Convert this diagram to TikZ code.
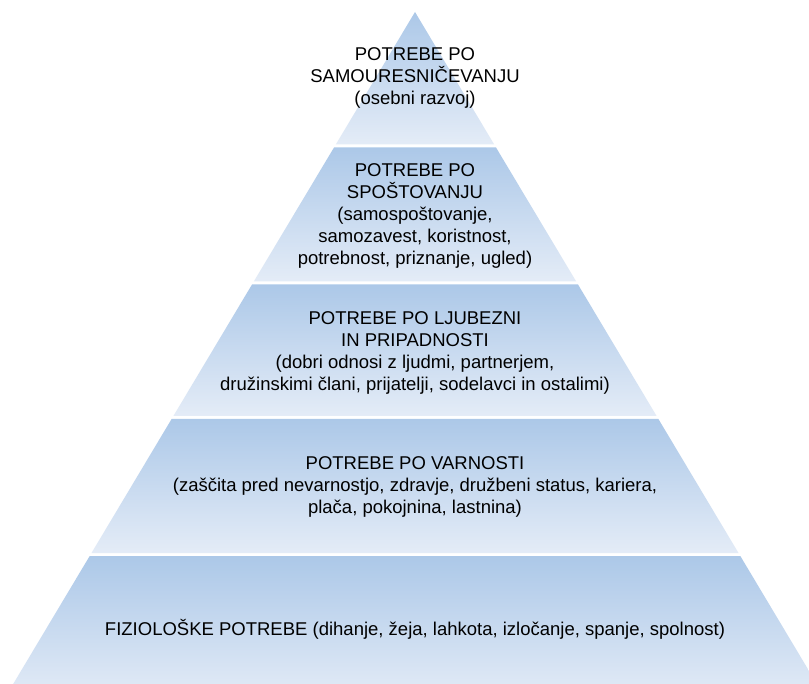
\documentclass[tikz,border=0pt]{standalone}
\usepackage{fontspec}
\setmainfont{Liberation Sans}
\begin{document}
\begin{tikzpicture}[x=1pt,y=-1pt,
  level/.style={top color=layertop,bottom color=layerbottom,draw=none},
  label/.style={align=center,font=\fontsize{18.5}{21.8}\selectfont,text=black,inner sep=0pt}]
\definecolor{layertop}{RGB}{172,200,232}
\definecolor{layerbottom}{RGB}{228,236,247}
\useasboundingbox (0,0) rectangle (809,684);
\clip (0,0) rectangle (809,684);
\fill[white] (0,0) rectangle (809,684);
% five stacked bands of the pyramid, separated by thin white gaps
\shade[level] (415,12) -- (494.2,144.5) -- (335.8,144.5) -- cycle;
\shade[level] (334.0,147.5) -- (496.0,147.5) -- (576.2,281.5) -- (253.8,281.5) -- cycle;
\shade[level] (252.0,284.5) -- (578.0,284.5) -- (656.6,416) -- (173.4,416) -- cycle;
\shade[level] (171.6,419) -- (658.4,419) -- (738.5,553) -- (91.5,553) -- cycle;
\shade[level] (89.7,556) -- (740.3,556) -- (826.4,700) -- (3.6,700) -- cycle;
% band labels
\node[label] (self) at (415,78) {POTREBE PO\\SAMOURESNIČEVANJU\\(osebni razvoj)};
\node[label] (esteem) at (415,216) {POTREBE PO\\SPOŠTOVANJU\\(samospoštovanje,\\samozavest, koristnost,\\potrebnost, priznanje, ugled)};
\node[label] (love) at (415,353) {POTREBE PO LJUBEZNI\\IN PRIPADNOSTI\\(dobri odnosi z ljudmi, partnerjem,\\družinskimi člani, prijatelji, sodelavci in ostalimi)};
\node[label] (safety) at (415,487) {POTREBE PO VARNOSTI\\(zaščita pred nevarnostjo, zdravje, družbeni status, kariera,\\plača, pokojnina, lastnina)};
\node[label] (body) at (415,629) {FIZIOLOŠKE POTREBE (dihanje, žeja, lahkota, izločanje, spanje, spolnost)};
\end{tikzpicture}
\end{document}
